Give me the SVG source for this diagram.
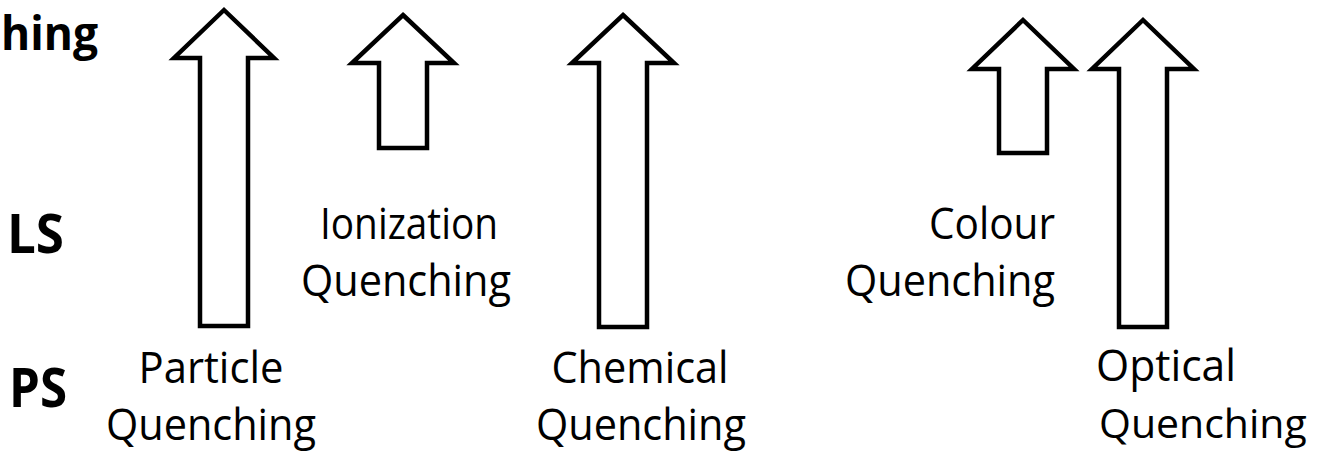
<svg xmlns="http://www.w3.org/2000/svg" width="1317" height="455" viewBox="0 0 1317 455">
<style>
.arrow{fill:#fff;stroke:#000;stroke-width:4.5;stroke-linejoin:miter;stroke-miterlimit:10}
.lbl{font-family:"Open Sans","Noto Sans",sans-serif;font-size:44px;fill:#000}
.bold{font-family:"Open Sans","Noto Sans",sans-serif;font-size:53px;font-weight:bold;fill:#000}
</style>
<rect width="1317" height="455" fill="#fff"/>
<g id="row-labels">
<text class="bold" x="1" y="50" style="font-size:46px" textLength="97" lengthAdjust="spacingAndGlyphs">hing</text>
<text class="bold" x="7" y="253" textLength="57" lengthAdjust="spacingAndGlyphs">LS</text>
<text class="bold" x="9" y="407" textLength="58" lengthAdjust="spacingAndGlyphs">PS</text>
</g>
<g id="particle-quenching">
<path class="arrow" d="M224,10 L274,58 L248,58 L248,326 L200,326 L200,58 L174,58 Z"/>
<text class="lbl" x="211" y="383" text-anchor="middle" textLength="145" lengthAdjust="spacingAndGlyphs">Particle</text>
<text class="lbl" x="211" y="440" text-anchor="middle" textLength="210" lengthAdjust="spacingAndGlyphs">Quenching</text>
</g>
<g id="ionization-quenching">
<path class="arrow" d="M403,15 L454,63 L427,63 L427,148 L379,148 L379,63 L352,63 Z"/>
<text class="lbl" x="409" y="239" text-anchor="middle" textLength="178" lengthAdjust="spacingAndGlyphs">Ionization</text>
<text class="lbl" x="406" y="296" text-anchor="middle" textLength="210" lengthAdjust="spacingAndGlyphs">Quenching</text>
</g>
<g id="chemical-quenching">
<path class="arrow" d="M623,15 L674,63 L647,63 L647,327 L599,327 L599,63 L572,63 Z"/>
<text class="lbl" x="640" y="383" text-anchor="middle" textLength="177" lengthAdjust="spacingAndGlyphs">Chemical</text>
<text class="lbl" x="641" y="440" text-anchor="middle" textLength="210" lengthAdjust="spacingAndGlyphs">Quenching</text>
</g>
<g id="colour-quenching">
<path class="arrow" d="M1023,20 L1074,69 L1047,69 L1047,153 L999,153 L999,69 L972,69 Z"/>
<text class="lbl" x="1055" y="239" text-anchor="end" textLength="126" lengthAdjust="spacingAndGlyphs">Colour</text>
<text class="lbl" x="1055" y="296" text-anchor="end" textLength="210" lengthAdjust="spacingAndGlyphs">Quenching</text>
</g>
<g id="optical-quenching">
<path class="arrow" d="M1143,20 L1194,69 L1167,69 L1167,327 L1119,327 L1119,69 L1092,69 Z"/>
<text class="lbl" x="1096" y="381" textLength="140" lengthAdjust="spacingAndGlyphs">Optical</text>
<text class="lbl" x="1099" y="438" style="font-size:41px">Quenching</text>
</g>
<g id="connectors"></g>
</svg>
